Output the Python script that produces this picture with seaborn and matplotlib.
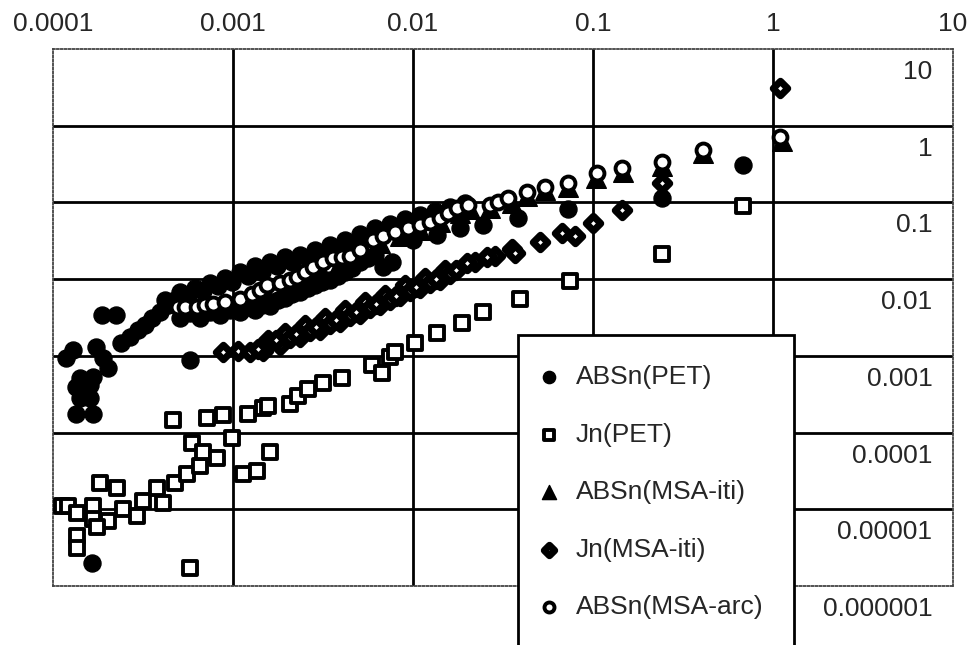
import matplotlib
matplotlib.use("Agg")
import matplotlib.pyplot as plt
import matplotlib.transforms as mtransforms
from matplotlib.ticker import NullLocator
import seaborn as sns

sns.set_style("white")
plt.rcParams['font.family'] = ['Liberation Sans', 'DejaVu Sans']

# axis labels
x_ticks = [1e-4, 1e-3, 1e-2, 1e-1, 1, 10]
x_labels = ["0.0001", "0.001", "0.01", "0.1", "1", "10"]
y_ticks = [10, 1, 0.1, 0.01, 0.001, 1e-4, 1e-5, 1e-6]
y_labels = ["10", "1", "0.1", "0.01", "0.001", "0.0001", "0.00001", "0.000001"]

series_names = ["ABSn(PET)", "Jn(PET)", "ABSn(MSA-iti)", "Jn(MSA-iti)", "ABSn(MSA-arc)"]

# ABSn(PET) - filled circles
abs_pet_x = [1.87e-4, 2.24e-4, 1.29e-4, 1.73e-4, 1.18e-4, 1.90e-4, 2.02e-4, 1.41e-4, 1.67e-4,
             1.34e-4, 1.61e-4, 1.41e-4, 1.61e-4, 1.34e-4, 1.67e-4, 1.65e-4, 5.77e-4,
             2.39e-4, 2.68e-4, 2.97e-4, 3.25e-4, 3.55e-4, 3.93e-4, 4.36e-4, 4.76e-4,
             4.19e-4, 5.08e-4, 6.15e-4, 7.45e-4, 9.03e-4, 1.09e-3, 1.33e-3, 1.61e-3, 1.94e-3,
             2.36e-3, 2.85e-3, 3.46e-3, 4.19e-3, 5.08e-3, 6.15e-3, 7.45e-3, 9.03e-3, 1.09e-2,
             1.32e-2, 1.61e-2, 1.94e-2,
             5.08e-4, 6.56e-4, 8.47e-4, 1.09e-3, 1.33e-3, 1.61e-3, 1.94e-3, 2.36e-3, 2.85e-3,
             3.46e-3, 4.19e-3, 5.08e-3, 6.15e-3, 6.81e-3, 7.64e-3, 1.0e-2, 1.36e-2, 1.82e-2,
             2.45e-2, 3.83e-2, 7.26e-2, 0.242, 0.681,
             4.58e-4, 5.62e-4, 6.81e-4, 8.26e-4, 9.87e-4, 1.21e-3, 1.45e-3, 1.75e-3, 2.13e-3,
             2.61e-3, 3.12e-3, 3.78e-3, 4.58e-3, 5.62e-3, 6.73e-3, 8.26e-3, 9.87e-3, 1.21e-2,
             1.47e-2, 1.78e-2,
             5.77e-4, 7.45e-4, 9.62e-4, 1.21e-3, 1.45e-3, 1.78e-3, 2.13e-3, 2.61e-3, 3.12e-3,
             3.83e-3, 4.58e-3, 5.62e-3]
abs_pet_y = [3.37e-3, 3.37e-3, 1.18e-3, 1.29e-3, 9.25e-4, 9.25e-4, 6.85e-4, 5.07e-4, 5.22e-4,
             3.87e-4, 4.11e-4, 2.86e-4, 2.78e-4, 1.77e-4, 1.77e-4, 2.0e-6, 8.71e-4,
             1.45e-3, 1.74e-3, 2.15e-3, 2.49e-3, 3.08e-3, 3.69e-3, 4.55e-3, 5.29e-3,
             5.29e-3, 6.73e-3, 7.58e-3, 8.81e-3, 1.02e-2, 1.23e-2, 1.47e-2, 1.66e-2, 1.93e-2,
             2.05e-2, 2.38e-2, 2.76e-2, 3.21e-2, 3.85e-2, 4.60e-2, 5.19e-2, 6.04e-2, 6.8e-2,
             7.7e-2, 8.7e-2, 9.8e-2,
             3.08e-3, 3.08e-3, 3.37e-3, 3.69e-3, 3.92e-3, 4.42e-3, 5.61e-3, 6.73e-3, 8.30e-3,
             9.64e-3, 1.23e-2, 1.66e-2, 2.05e-2, 1.43e-2, 1.66e-2, 3.21e-2, 3.73e-2, 4.60e-2,
             5.04e-2, 6.2e-2, 8.1e-2, 0.113, 0.306,
             4.83e-3, 5.96e-3, 6.94e-3, 8.05e-3, 9.08e-3, 1.09e-2, 1.23e-2, 1.47e-2, 1.66e-2,
             1.87e-2, 2.17e-2, 2.52e-2, 2.93e-2, 3.52e-2, 4.08e-2, 4.60e-2, 5.19e-2, 6.04e-2,
             6.8e-2, 7.7e-2,
             3.58e-3, 3.69e-3, 3.92e-3, 4.29e-3, 4.55e-3, 5.29e-3, 6.34e-3, 7.58e-3, 9.08e-3,
             1.09e-2, 1.38e-2, 1.87e-2]

# Jn(PET) - open squares
jn_pet_x = [1.12e-4, 1.21e-4, 1.36e-4, 1.67e-4, 1.67e-4, 2.02e-4, 1.76e-4, 1.36e-4, 1.36e-4,
            1.82e-4, 2.27e-4, 2.45e-4, 2.93e-4, 3.16e-4, 3.78e-4, 4.08e-4, 4.76e-4, 5.55e-4,
            6.56e-4, 5.92e-4, 6.81e-4, 8.15e-4, 9.87e-4, 1.14e-3, 1.36e-3, 1.61e-3, 5.77e-4,
            4.64e-4, 7.17e-4, 8.80e-4, 1.21e-3, 1.47e-3, 1.56e-3, 2.07e-3, 2.30e-3, 2.61e-3,
            3.16e-3, 4.03e-3, 5.92e-3, 6.73e-3, 7.45e-3, 7.94e-3, 1.03e-2, 1.36e-2, 1.87e-2,
            2.45e-2, 3.93e-2, 7.45e-2, 0.242, 0.681]
jn_pet_y = [1.11e-5, 1.11e-5, 9.0e-6, 1.11e-5, 7.5e-6, 7.1e-6, 5.8e-6, 4.5e-6, 3.1e-6,
            2.2e-5, 1.9e-5, 1.02e-5, 8.2e-6, 1.3e-5, 1.9e-5, 1.2e-5, 2.2e-5, 2.9e-5,
            3.7e-5, 7.2e-5, 5.5e-5, 4.7e-5, 8.4e-5, 2.9e-5, 3.2e-5, 5.5e-5, 1.73e-6,
            1.44e-4, 1.57e-4, 1.67e-4, 1.77e-4, 2.06e-4, 2.25e-4, 2.39e-4, 3.04e-4, 3.75e-4,
            4.36e-4, 5.07e-4, 7.5e-4, 5.89e-4, 9.53e-4, 1.11e-3, 1.45e-3, 1.96e-3, 2.65e-3,
            3.69e-3, 5.45e-3, 9.35e-3, 0.0211, 0.089]

# ABSn(MSA-iti) - filled triangles
abs_iti_x = [6.56e-4, 8.47e-4, 1.17e-3, 1.51e-3, 1.94e-3, 2.36e-3, 3.04e-3, 3.93e-3, 5.08e-3,
             6.56e-3, 8.47e-3, 1.09e-2, 1.41e-2, 1.82e-2, 2.07e-2, 2.68e-2, 3.55e-2, 4.30e-2,
             5.41e-2, 7.26e-2, 0.104, 0.147, 0.242, 0.408, 1.12]
abs_iti_y = [3.92e-3, 4.42e-3, 5.29e-3, 7.14e-3, 8.30e-3, 9.64e-3, 1.38e-2, 1.66e-2, 2.05e-2,
             2.93e-2, 3.62e-2, 4.34e-2, 5.52e-2, 7.2e-2, 8.1e-2, 8.4e-2, 9.8e-2, 0.121,
             0.144, 0.158, 0.207, 0.248, 0.297, 0.439, 0.63]

# Jn(MSA-iti) - diamonds
jn_iti_x = [8.80e-4, 1.07e-3, 1.24e-3, 1.47e-3, 1.82e-3, 2.36e-3, 3.04e-3, 3.93e-3, 5.08e-3,
            6.56e-3, 8.47e-3, 1.09e-2, 1.41e-2,
            1.56e-3, 1.94e-3, 2.51e-3, 3.25e-3, 4.19e-3, 5.41e-3, 6.99e-3, 9.03e-3, 1.17e-2,
            1.51e-2,
            2.07e-3, 2.68e-3, 3.46e-3, 4.47e-3, 5.77e-3, 7.45e-3, 9.62e-3, 1.24e-2, 1.61e-2,
            1.38e-3, 1.73e-3, 2.24e-3, 2.89e-3, 3.74e-3, 4.82e-3, 6.23e-3, 8.05e-3, 1.04e-2,
            1.34e-2, 1.73e-2, 2.21e-2, 2.85e-2,
            2.0e-2, 2.58e-2, 3.55e-2, 3.69e-2, 5.08e-2, 6.73e-2, 7.94e-2, 0.1, 0.145, 0.242, 1.09]
jn_iti_y = [1.11e-3, 1.14e-3, 1.11e-3, 1.14e-3, 1.37e-3, 1.74e-3, 2.15e-3, 2.73e-3, 3.47e-3,
            4.55e-3, 5.96e-3, 7.58e-3, 9.64e-3,
            1.59e-3, 1.96e-3, 2.49e-3, 3.08e-3, 3.92e-3, 4.98e-3, 6.15e-3, 8.30e-3, 1.02e-2,
            1.30e-2,
            1.69e-3, 2.08e-3, 2.57e-3, 3.27e-3, 4.16e-3, 5.29e-3, 6.94e-3, 8.81e-3, 1.16e-2,
            1.21e-3, 1.59e-3, 1.90e-3, 2.35e-3, 2.90e-3, 3.69e-3, 4.69e-3, 5.96e-3, 7.82e-3,
            9.93e-3, 1.30e-2, 1.66e-2, 1.99e-2,
            1.61e-2, 1.93e-2, 2.45e-2, 2.17e-2, 3.02e-2, 3.96e-2, 3.62e-2, 5.35e-2, 7.9e-2, 0.178, 3.1]

# ABSn(MSA-arc) - open circles
abs_arc_x = [4.95e-4, 5.41e-4, 6.31e-4, 6.99e-4, 7.74e-4, 9.03e-4, 1.09e-3, 1.28e-3, 1.41e-3,
             1.55e-3, 1.82e-3, 2.07e-3, 2.27e-3, 2.51e-3, 2.78e-3, 3.16e-3, 3.59e-3, 4.03e-3,
             4.47e-3, 5.08e-3, 5.99e-3, 6.81e-3, 7.94e-3, 9.38e-3, 1.09e-2, 1.24e-2, 1.41e-2,
             1.56e-2, 1.76e-2, 2.02e-2, 2.68e-2, 2.97e-2, 3.37e-2, 4.30e-2, 5.41e-2, 7.26e-2,
             0.105, 0.145, 0.242, 0.408, 1.09]
abs_arc_y = [4.29e-3, 4.29e-3, 4.29e-3, 4.55e-3, 4.69e-3, 4.98e-3, 5.45e-3, 6.34e-3, 7.14e-3,
             8.30e-3, 8.81e-3, 9.64e-3, 1.06e-2, 1.23e-2, 1.43e-2, 1.66e-2, 1.87e-2, 1.93e-2,
             1.99e-2, 2.38e-2, 3.21e-2, 3.62e-2, 4.08e-2, 4.60e-2, 5.04e-2, 5.52e-2, 6.2e-2,
             7.2e-2, 8.4e-2, 9.2e-2, 9.2e-2, 0.101, 0.113, 0.136, 0.158, 0.178,
             0.241, 0.280, 0.335, 0.48, 0.71]

fig = plt.figure(figsize=(9.67, 6.45), dpi=100)
ax = fig.add_axes([0.0548, 0.0915, 0.9307, 0.8326])
ax.set_xscale('log')
ax.set_yscale('log')

# series: data, marker, face colour, size, edge width
styles = [
    (abs_pet_x, abs_pet_y, 'o', 'black', 150, 1.0),
    (jn_pet_x, jn_pet_y, 's', 'white', 115, 2.8),
    (abs_iti_x, abs_iti_y, '^', 'black', 200, 1.0),
    (jn_iti_x, jn_iti_y, 'D', 'white', 55, 5.0),
    (abs_arc_x, abs_arc_y, 'o', 'white', 100, 2.8),
]
for name, (xs, ys, mk, face, size, lw) in zip(series_names, styles):
    sns.scatterplot(x=xs, y=ys, marker=mk, color=face, edgecolor='black',
                    linewidth=lw, s=size, label=name, ax=ax, zorder=3)

ax.set_xlim(1e-4, 10)
ax.set_ylim(1e-6, 10)
ax.set_xlabel('')
ax.set_ylabel('')

# grid lines inside the frame
for v in x_ticks[1:-1]:
    ax.axvline(v, color='black', linewidth=2, zorder=1)
for v in y_ticks[1:-1]:
    ax.axhline(v, color='black', linewidth=2, zorder=1)

for sp in ax.spines.values():
    sp.set_linestyle((0, (1, 1.2)))
    sp.set_linewidth(1.3)
    sp.set_color('#444444')

ax.xaxis.tick_top()
ax.set_xticks(x_ticks, x_labels)
ax.xaxis.set_minor_locator(NullLocator())
ax.yaxis.set_minor_locator(NullLocator())
ax.set_yticks([])
ax.tick_params(axis='x', length=0, pad=9, labelsize=19)

# y labels sit just below each grid line, inside the right edge
lab_trans = mtransforms.offset_copy(ax.get_yaxis_transform(), fig=fig, x=0, y=-23, units='dots')
for v, lab in zip(y_ticks, y_labels):
    ax.text(0.977, v, lab, transform=lab_trans, ha='right', va='center', fontsize=19, zorder=2)

leg = ax.legend(loc='upper left', bbox_to_anchor=(518 / 967, 1 - 335 / 645),
                bbox_transform=fig.transFigure, fontsize=19, frameon=True, fancybox=False,
                framealpha=1, edgecolor='black', borderpad=1.15, handlelength=0.05,
                handletextpad=1.0, labelspacing=1.27, markerscale=0.72, borderaxespad=0)
leg.get_frame().set_linewidth(2)
leg.set_zorder(10)

fig.savefig('out.png', dpi=100)
